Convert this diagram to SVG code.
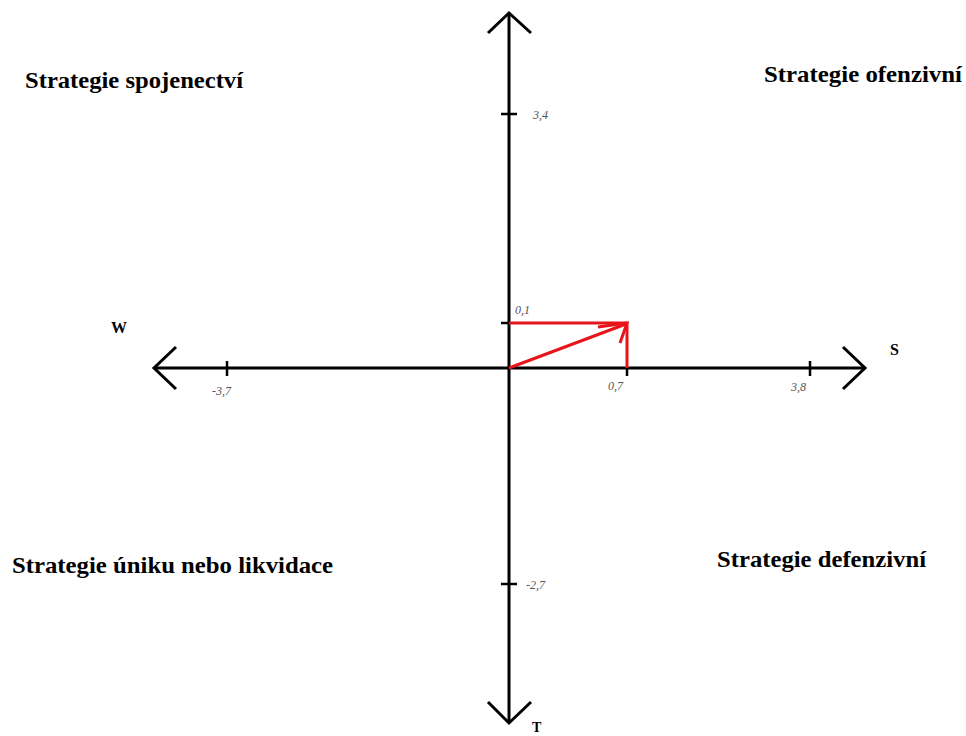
<svg xmlns="http://www.w3.org/2000/svg" width="966" height="736" viewBox="0 0 966 736">
<style>
.ax{stroke:#000;stroke-width:3;fill:none;stroke-linecap:butt}
.tk{stroke:#000;stroke-width:2.5;fill:none}
.rd{stroke:#e8141c;stroke-width:3;fill:none}
.q{font-family:"Liberation Serif",serif;font-weight:bold;font-size:23px;fill:#000}
.ax-l{font-family:"Liberation Serif",serif;font-weight:bold;font-size:16px;fill:#000}
.n{font-family:"Liberation Serif",serif;font-style:italic;font-size:12px;fill:#555}
</style>
<rect width="966" height="736" fill="#fff"/>
<g id="connectors">
<line class="ax" x1="509" y1="14" x2="509" y2="722"/>
<polyline class="ax" points="488,33 509,13 531,33"/>
<polyline class="ax" points="488,702 509,723 531,702"/>
<line class="ax" x1="154" y1="368" x2="864" y2="368"/>
<polyline class="ax" points="176,347 154,368 176,389"/>
<polyline class="ax" points="843,347 865,368 843,389"/>
<line class="tk" x1="501" y1="114" x2="517" y2="114"/>
<line class="tk" x1="501" y1="584" x2="517" y2="584"/>
<line class="tk" x1="227" y1="361" x2="227" y2="376"/>
<line class="tk" x1="810" y1="361" x2="810" y2="376"/>
<line class="tk" x1="501" y1="323" x2="509" y2="323"/>
<line class="tk" x1="627" y1="368" x2="627" y2="376"/>
<line class="rd" x1="509" y1="323" x2="627" y2="323"/>
<line class="rd" x1="627" y1="323" x2="627" y2="368"/>
<line class="rd" x1="509" y1="368" x2="626" y2="324"/>
<polyline class="rd" points="598,327 627,323 620,343"/>
</g>
<g id="axis-labels">
<text class="ax-l" x="111" y="333">W</text>
<text class="ax-l" x="890" y="355">S</text>
<text class="ax-l" x="532" y="732" style="font-size:14px">T</text>
</g>
<g id="tick-labels">
<text class="n" x="533" y="119">3,4</text>
<text class="n" x="526" y="589">-2,7</text>
<text class="n" x="212" y="395">-3,7</text>
<text class="n" x="791" y="391">3,8</text>
<text class="n" x="515" y="314">0,1</text>
<text class="n" x="608" y="390">0,7</text>
</g>
<g id="q-allies"><text class="q" x="25" y="88" textLength="218" lengthAdjust="spacingAndGlyphs">Strategie spojenectví</text></g>
<g id="q-offensive"><text class="q" x="764" y="82" textLength="198" lengthAdjust="spacingAndGlyphs">Strategie ofenzivní</text></g>
<g id="q-escape"><text class="q" x="12" y="573" textLength="321" lengthAdjust="spacingAndGlyphs">Strategie úniku nebo likvidace</text></g>
<g id="q-defensive"><text class="q" x="717" y="567" textLength="209" lengthAdjust="spacingAndGlyphs">Strategie defenzivní</text></g>
</svg>
